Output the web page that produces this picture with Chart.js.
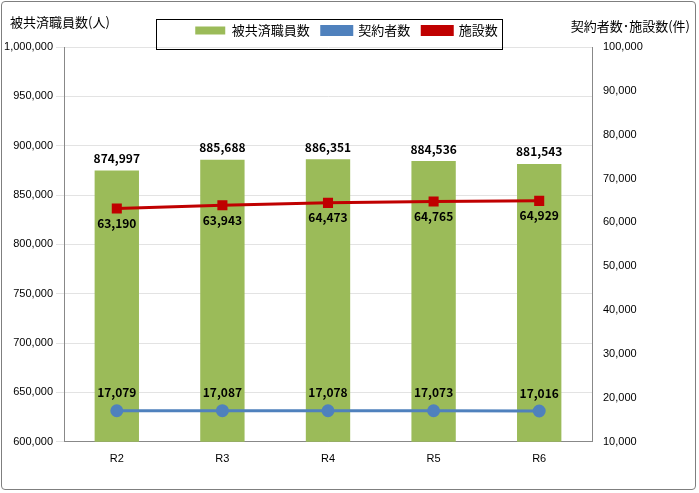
<!DOCTYPE html>
<html><head><meta charset="utf-8">
<script src="https://cdn.jsdelivr.net/npm/chart.js@4/dist/chart.umd.min.js"></script>
<style>
body{margin:0;background:#fff;font-family:"Noto Sans CJK JP",sans-serif}
#wrap{position:absolute;left:1px;top:1px;width:695px;height:489px;border:1px solid #7f7f7f;border-radius:4px;box-sizing:border-box}
canvas{position:absolute;left:0;top:0}
</style></head><body>
<div id="wrap"><canvas id="c" width="695" height="489"></canvas></div>
<script>
const categories = ['R2', 'R3', 'R4', 'R5', 'R6'];
const members = [874997, 885688, 886351, 884536, 881543];
const contractors = [17079, 17087, 17078, 17073, 17016];
const facilities = [63190, 63943, 64473, 64765, 64929];

const fmt = v => v.toLocaleString('en-US');

const labelPlugin = {
  id: 'labels',
  afterDatasetsDraw(chart) {
    const ctx = chart.ctx;
    ctx.save();
    ctx.font = 'bold 12px "Noto Sans CJK JP", sans-serif';
    ctx.fillStyle = '#000';
    ctx.textAlign = 'center';
    chart.data.datasets.forEach((ds, i) => {
      const meta = chart.getDatasetMeta(i);
      meta.data.forEach((el, j) => {
        const v = fmt(ds.data[j]);
        if (i === 0) { ctx.textBaseline = 'bottom'; ctx.fillText(v, el.x, el.y - 6); }
        else if (i === 1) { ctx.textBaseline = 'bottom'; ctx.fillText(v, el.x, el.y - 12); }
        else { ctx.textBaseline = 'top'; ctx.fillText(v, el.x, el.y + 9); }
      });
    });
    ctx.font = '13px "Noto Sans CJK JP", sans-serif';
    ctx.textBaseline = 'top';
    ctx.textAlign = 'left';
    ctx.fillText('被共済職員数(人)', 8, 14);
    ctx.textAlign = 'right';
    ctx.fillText('契約者数･施設数(件)', 688, 18);
    ctx.strokeStyle = '#000';
    ctx.lineWidth = 1;
    ctx.strokeRect(154.5, 17.5, 346, 30);
    ctx.restore();
  }
};

new Chart(document.getElementById('c'), {
  data: {
    labels: categories,
    datasets: [
      { type: 'bar', label: '被共済職員数', data: members, backgroundColor: '#9bbb59', yAxisID: 'y', barPercentage: 0.42, categoryPercentage: 1, order: 3 },
      { type: 'line', label: '契約者数', data: contractors, borderColor: '#4f81bd', backgroundColor: '#4f81bd', borderWidth: 3, pointStyle: 'circle', pointRadius: 5, yAxisID: 'y1', order: 1 },
      { type: 'line', label: '施設数', data: facilities, borderColor: '#c00000', backgroundColor: '#c00000', borderWidth: 3, pointStyle: 'rect', pointRadius: 5, yAxisID: 'y1', order: 2 }
    ]
  },
  options: {
    responsive: false,
    animation: false,
    layout: { padding: { left: 2, right: 8, top: 10, bottom: 22 } },
    plugins: {
      tooltip: { enabled: false },
      legend: {
        position: 'top',
        labels: { color: '#000', font: { size: 13, family: '"Noto Sans CJK JP", sans-serif' }, boxWidth: 30, boxHeight: 8, padding: 12,
          sort: (a, b) => a.datasetIndex - b.datasetIndex }
      }
    },
    scales: {
      x: { grid: { display: false }, border: { color: '#888' }, ticks: { color: '#000', font: { size: 11 } } },
      y: { position: 'left', min: 600000, max: 1000000, ticks: { stepSize: 50000, color: '#000', font: { size: 11 }, callback: v => fmt(v) }, grid: { color: '#e3e3e3' }, border: { color: '#888' }, afterFit: s => { s.width = 60; } },
      y1: { position: 'right', min: 10000, max: 100000, ticks: { stepSize: 10000, color: '#000', font: { size: 11 }, callback: v => fmt(v) }, grid: { display: false }, border: { color: '#888' }, afterFit: s => { s.width = 97; } }
    }
  },
  plugins: [labelPlugin]
});
</script>
</body></html>
